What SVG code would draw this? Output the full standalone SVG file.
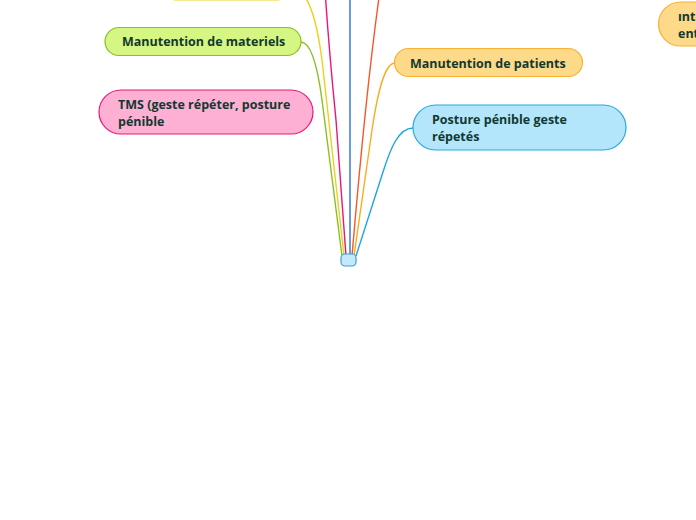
<svg xmlns="http://www.w3.org/2000/svg" width="696" height="520" viewBox="0 0 696 520">
<style>
.t{font-family:"Open Sans","Noto Sans","Liberation Sans",sans-serif;font-weight:700;font-size:12.5px;fill:#12392f}
.c{fill:none;stroke-width:1.4}
</style>
<rect width="696" height="520" fill="#ffffff"/>
<g id="connectors">
<path class="c" stroke="#8cbf26" d="M301,42 C312,42 318,70 322,100 L342,256"/>
<path class="c" stroke="#e9d21c" d="M298,-12 C312,0 318,30 322,60 L344,256"/>
<path class="c" stroke="#ea1679" d="M325,-10 C327,20 330,60 336,120 L346,256"/>
<path class="c" stroke="#2a6fd6" d="M350,0 L350,256"/>
<path class="c" stroke="#f2592a" d="M380,-10 Q366,90 352,256"/>
<path class="c" stroke="#f9ad1c" d="M395,63 C385,63 378,90 372,130 L354,256"/>
<path class="c" stroke="#1ea5e4" d="M413,128 C398,128 390,150 383,172 L356,256"/>
</g>
<g id="node-top-left">
<rect x="163" y="-30" width="127" height="30" rx="14" fill="#fbf39a" stroke="#ecd51f" stroke-width="1.2"/>
</g>
<g id="node-materiels">
<rect x="105" y="27.5" width="196" height="28" rx="14" fill="#d5f682" stroke="#8cbf26" stroke-width="1.2"/>
<text class="t" x="122" y="46">Manutention de materiels</text>
</g>
<g id="node-tms">
<rect x="99" y="90" width="214" height="44" rx="22" fill="#fdb0d4" stroke="#ea1679" stroke-width="1.2"/>
<text class="t" x="118" y="109">TMS (geste répéter, posture</text>
<text class="t" x="118" y="126">pénible</text>
</g>
<g id="node-patients">
<rect x="394.5" y="48.5" width="188" height="28" rx="14" fill="#fdd98a" stroke="#f9b233" stroke-width="1.2"/>
<text class="t" x="410" y="68">Manutention de patients</text>
</g>
<g id="node-posture">
<rect x="413" y="105" width="213" height="45" rx="22.5" fill="#b3e5fb" stroke="#2aa6e6" stroke-width="1.2"/>
<text class="t" x="432" y="124">Posture pénible geste</text>
<text class="t" x="432" y="141">répetés</text>
</g>
<g id="node-top-right">
<rect x="658.5" y="2" width="80" height="44" rx="22" fill="#fdd98a" stroke="#f9b233" stroke-width="1.2"/>
<text class="t" x="678" y="21">ınte</text>
<text class="t" x="678" y="38">ent</text>
</g>
<g id="node-center">
<rect x="341" y="254" width="15" height="12" rx="4" fill="#c5e9fb" stroke="#3a9fd6" stroke-width="1.2"/>
</g>
</svg>
